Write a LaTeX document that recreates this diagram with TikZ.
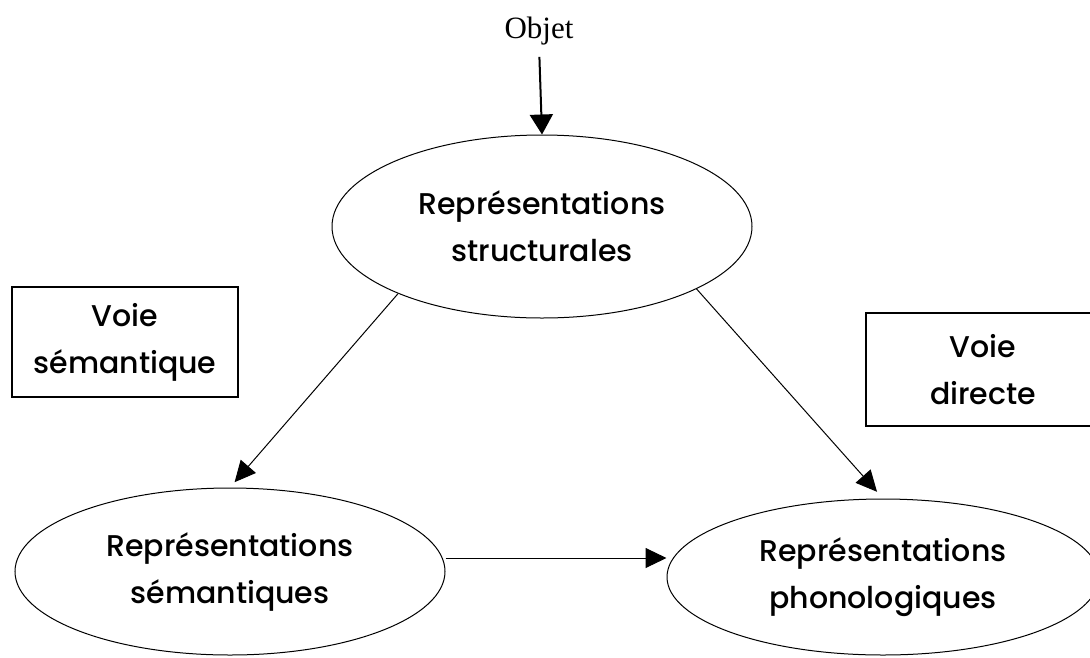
\documentclass[tikz,border=0pt]{standalone}
\usepackage{fontspec}
\setmainfont{Poppins}[UprightFont=* Medium]
\newfontfamily\objfont{Liberation Serif}
\usetikzlibrary{shapes.geometric,arrows.meta}
\tikzset{
  oval/.style={ellipse, draw, line width=1pt, inner sep=0pt, align=center,
    font=\fontsize{30}{47}\selectfont},
  voiebox/.style={rectangle, draw, line width=1.6pt, inner sep=0pt, align=center,
    font=\fontsize{30}{47}\selectfont},
  link/.style={line width=1pt, -{Triangle[length=21pt,width=20pt]}},
}
\begin{document}
\begin{tikzpicture}[x=1pt,y=-1pt]
\useasboundingbox (0,0) rectangle (1090,657);
\node[anchor=base, inner sep=0pt, font=\objfont\fontsize{31}{36}\selectfont] (objet) at (539,38) {Objet};
\node[oval, minimum width=420pt, minimum height=183pt] (struct) at (542,226.5) {Représentations\\structurales};
\node[oval, minimum width=430pt, minimum height=167pt] (sem) at (230,571.5) {Représentations\\sémantiques};
\node[oval, minimum width=432pt, minimum height=156pt] (phon) at (883,577) {Représentations\\phonologiques};
\node[voiebox, minimum width=226pt, minimum height=110pt] (vs) at (125,342) {Voie\\sémantique};
\node[voiebox, minimum width=234pt, minimum height=113pt] (vd) at (983,369.5) {Voie\\directe};
\draw[line width=2pt, -{Triangle[length=20pt,width=23pt]}, shorten <=12pt] (objet.south) -- (struct.north);
\draw[link, shorten >=7pt] (struct.205) -- (sem.north);
\draw[link, shorten >=9pt] (struct.-22) -- (phon.north);
\draw[link] (sem.east |- 0,558) -- (phon.west |- 0,558);
\end{tikzpicture}
\end{document}
